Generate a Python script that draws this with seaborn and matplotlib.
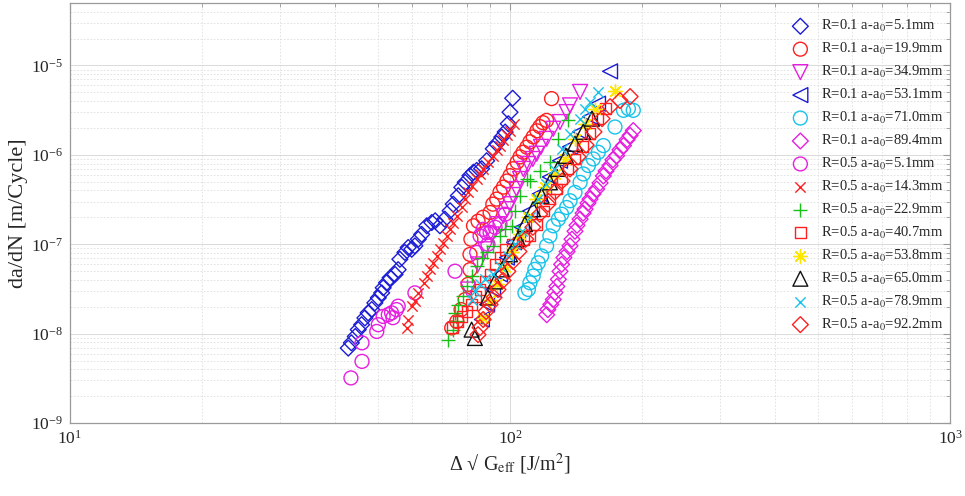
import numpy as np
import pandas as pd
import seaborn as sns
import matplotlib.pyplot as plt
from matplotlib.ticker import LogLocator, LogFormatterMathtext, NullFormatter

# crack growth data
# R=0.1
x_r01_05 = [42.9, 43.6, 44.5, 45.2, 46.0, 46.8, 47.6, 48.5, 49.3, 50.2, 51.1, 51.5, 52.4, 53.4, 54.8,
            55.7, 56.2, 57.7, 58.7, 59.8, 60.8, 61.9, 63.0, 64.7, 66.4, 67.6, 69.3, 71.1, 73.1, 74.3,
            76.3, 77.7, 79.1, 81.1, 82.6, 84.0, 86.2, 88.5, 91.6, 93.3, 95.8, 97.5, 99.1, 100.0, 101.4]
y_r01_05 = [6.9e-9, 7.9e-9, 9.3e-9, 1.11e-8, 1.26e-8, 1.50e-8, 1.71e-8, 1.86e-8, 2.21e-8, 2.52e-8,
            2.86e-8, 3.26e-8, 3.71e-8, 4.22e-8, 4.6e-8, 5.2e-8, 6.8e-8, 8.1e-8, 9.2e-8, 8.8e-8,
            9.6e-8, 1.14e-7, 1.29e-7, 1.61e-7, 1.75e-7, 1.83e-7, 1.61e-7, 1.91e-7, 2.37e-7, 2.81e-7,
            3.49e-7, 4.33e-7, 4.93e-7, 5.85e-7, 6.4e-7, 6.7e-7, 7.0e-7, 8.6e-7, 1.17e-6, 1.33e-6,
            1.58e-6, 1.80e-6, 2.23e-6, 3.0e-6, 4.3e-6]

x_r01_20 = [73.7, 75.7, 77.4, 79.1, 80.3, 81.1, 81.1, 81.5, 82.6, 84.6, 86.9, 90.1, 91.4, 93.3, 94.9,
            96.6, 98.4, 100.0, 101.8, 103.8, 105.4, 107.1, 109.2, 111.0, 112.9, 115.1, 116.9, 118.8,
            121.1, 124.3]
y_r01_20 = [1.16e-8, 1.37e-8, 1.86e-8, 2.41e-8, 3.56e-8, 5.2e-8, 7.7e-8, 1.14e-7, 1.61e-7, 1.81e-7,
            2.01e-7, 2.27e-7, 2.81e-7, 3.2e-7, 3.84e-7, 4.36e-7, 5.1e-7, 5.85e-7, 7.0e-7, 8.3e-7,
            9.5e-7, 1.07e-6, 1.22e-6, 1.40e-6, 1.59e-6, 1.86e-6, 2.07e-6, 2.29e-6, 2.43e-6, 4.26e-6]

x_r01_35 = [80.3, 84.6, 87.7, 90.9, 93.9, 96.6, 98.5, 100.0, 101.6, 103.5, 105.4, 107.2, 109.9, 112.7,
            115.0, 117.6, 121.1, 125.4, 129.9, 134.5, 136.9, 144.3]
y_r01_35 = [3.12e-8, 5.96e-8, 8.8e-8, 1.29e-7, 1.68e-7, 2.08e-7, 2.47e-7, 2.81e-7, 3.56e-7, 4.15e-7,
            5.37e-7, 6.97e-7, 7.9e-7, 9.0e-7, 1.03e-6, 1.23e-6, 1.51e-6, 1.96e-6, 2.33e-6, 3.01e-6,
            3.58e-6, 5.06e-6]

x_r01_53 = [86.3, 88.7, 91.5, 94.9, 98.4, 102.1, 106.4, 111.0, 116.8, 123.2, 129.9, 136.9, 144.3,
            152.0, 158.5, 168.8]
y_r01_53 = [1.44e-8, 2.12e-8, 3.12e-8, 4.6e-8, 7.1e-8, 1.05e-7, 1.55e-7, 2.35e-7, 3.65e-7, 5.66e-7,
            8.6e-7, 1.23e-6, 1.81e-6, 2.67e-6, 3.74e-6, 8.6e-6]

x_r01_71 = [108.1, 110.1, 111.0, 112.9, 113.9, 115.9, 118.0, 121.1, 123.2, 125.4, 128.8, 131.0, 134.5,
            136.9, 140.5, 144.3, 146.8, 150.7, 154.6, 158.7, 163.0, 173.2, 181.1, 185.8, 190.6]
y_r01_71 = [2.86e-8, 3.12e-8, 3.71e-8, 4.41e-8, 5.24e-8, 6.2e-8, 7.4e-8, 9.6e-8, 1.24e-7, 1.61e-7,
            1.91e-7, 2.17e-7, 2.58e-7, 3.07e-7, 3.80e-7, 4.92e-7, 6.12e-7, 7.6e-7, 9.0e-7, 1.07e-6,
            1.27e-6, 2.05e-6, 3.15e-6, 3.29e-6, 3.15e-6]

x_r01_89 = [121.2, 121.9, 123.8, 125.4, 126.5, 127.8, 128.8, 129.9, 131.0, 132.6, 134.8, 136.9, 138.3,
            140.5, 142.0, 144.3, 146.6, 148.1, 150.4, 152.0, 154.4, 157.4, 160.2, 163.0, 165.3, 168.8,
            171.4, 174.7, 177.8, 181.1, 184.6, 187.5, 190.6]
y_r01_89 = [1.63e-8, 1.86e-8, 2.12e-8, 2.41e-8, 2.89e-8, 3.38e-8, 4.05e-8, 4.98e-8, 5.96e-8, 7.1e-8,
            8.3e-8, 9.6e-8, 1.14e-7, 1.40e-7, 1.63e-7, 1.91e-7, 2.23e-7, 2.47e-7, 2.89e-7, 3.2e-7,
            3.65e-7, 4.15e-7, 4.85e-7, 5.81e-7, 6.6e-7, 7.6e-7, 8.8e-7, 9.8e-7, 1.14e-6, 1.27e-6,
            1.48e-6, 1.65e-6, 1.87e-6]

# R=0.5
x_r05_05 = [43.5, 46.1, 46.1, 49.8, 50.2, 51.5, 52.9, 53.8, 55.2, 55.7, 54.2, 60.8, 75.0, 84.0, 85.5,
            88.5, 90.1, 86.9, 92.5, 94.9, 89.1, 97.5]
y_r05_05 = [3.2e-9, 4.9e-9, 7.9e-9, 1.06e-8, 1.26e-8, 1.56e-8, 1.63e-8, 1.71e-8, 1.86e-8, 2.03e-8,
            1.51e-8, 2.86e-8, 5.0e-8, 8.1e-8, 1.24e-7, 1.35e-7, 1.36e-7, 1.47e-7, 1.55e-7, 1.68e-7,
            1.0e-7, 2.17e-7]

x_r05_14 = [58.2, 58.7, 59.8, 60.8, 61.9, 63.6, 64.7, 65.8, 66.9, 68.1, 69.3, 70.5, 71.8, 73.1, 74.3,
            75.7, 77.6, 79.1, 80.4, 81.8, 84.0, 85.5, 87.0, 89.3, 91.6, 93.3, 94.9, 96.6, 98.2, 100.0,
            102.3]
y_r05_14 = [1.16e-8, 1.44e-8, 2.03e-8, 2.31e-8, 2.86e-8, 3.71e-8, 4.41e-8, 5.24e-8, 6.2e-8, 7.4e-8,
            8.8e-8, 1.04e-7, 1.24e-7, 1.47e-7, 1.75e-7, 2.08e-7, 2.58e-7, 3.2e-7, 3.81e-7, 4.52e-7,
            5.37e-7, 6.1e-7, 7.0e-7, 8.3e-7, 9.8e-7, 1.12e-6, 1.27e-6, 1.45e-6, 1.65e-6, 1.87e-6,
            2.23e-6]

x_r05_23 = [72.4, 74.3, 75.7, 75.0, 76.3, 78.3, 79.8, 81.8, 84.0, 86.2, 88.5, 91.6, 94.9, 97.4, 100.9,
            102.6, 105.4, 109.2, 111.0, 116.8, 123.2, 128.5, 135.8]
y_r05_23 = [8.6e-9, 1.11e-8, 1.37e-8, 1.71e-8, 2.12e-8, 2.62e-8, 3.40e-8, 4.41e-8, 5.7e-8, 7.1e-8,
            8.1e-8, 9.6e-8, 1.24e-7, 1.47e-7, 1.61e-7, 2.35e-7, 3.49e-7, 5.37e-7, 5.15e-7, 6.6e-7,
            8.3e-7, 1.51e-6, 2.43e-6]

x_r05_41 = [74.1, 76.2, 77.8, 79.8, 81.8, 83.7, 85.5, 87.7, 90.1, 92.5, 94.9, 97.4, 101.1, 104.3, 107.6,
            111.0, 115.1, 119.5, 123.2, 127.3, 131.3, 135.5, 140.5, 145.9, 152.0, 157.8, 164.5]
y_r05_41 = [1.17e-8, 1.36e-8, 1.55e-8, 1.77e-8, 2.12e-8, 2.61e-8, 3.12e-8, 3.84e-8, 4.6e-8, 5.96e-8,
            7.1e-8, 8.8e-8, 1.0e-7, 1.05e-7, 1.14e-7, 1.26e-7, 1.68e-7, 2.35e-7, 3.2e-7, 4.15e-7,
            5.37e-7, 6.97e-7, 9.0e-7, 1.23e-6, 1.72e-6, 2.54e-6, 3.29e-6]

x_r05_54 = [86.8, 90.1, 93.4, 97.4, 101.1, 105.4, 109.9, 114.6, 120.2, 126.5, 133.3, 140.5, 148.1, 156.0,
            173.2]
y_r05_54 = [1.51e-8, 2.41e-8, 3.56e-8, 5.52e-8, 8.3e-8, 1.29e-7, 2.01e-7, 3.2e-7, 4.37e-7, 6.12e-7,
            9.0e-7, 1.51e-6, 2.23e-6, 3.29e-6, 5.24e-6]

x_r05_65 = [81.8, 83.2, 89.1, 92.5, 95.9, 100.0, 104.3, 108.1, 112.8, 118.0, 123.2, 128.5, 134.0, 140.5,
            146.6, 153.6]
y_r05_65 = [1.11e-8, 8.95e-9, 2.54e-8, 3.84e-8, 5.24e-8, 7.73e-8, 1.14e-7, 1.68e-7, 2.47e-7, 3.49e-7,
            4.93e-7, 6.97e-7, 9.75e-7, 1.33e-6, 1.81e-6, 2.54e-6]

x_r05_79 = [82.0, 83.2, 85.5, 87.7, 91.4, 94.9, 98.9, 102.6, 106.4, 111.0, 115.8, 120.7, 125.9, 131.3,
            136.9, 144.3, 148.1, 152.0, 158.7]
y_r05_79 = [2.41e-8, 2.98e-8, 3.56e-8, 4.05e-8, 4.6e-8, 5.7e-8, 7.4e-8, 1.0e-7, 1.40e-7, 2.01e-7,
            3.2e-7, 4.72e-7, 6.97e-7, 1.17e-6, 1.72e-6, 2.54e-6, 3.29e-6, 3.94e-6, 5.07e-6]

x_r05_92 = [84.6, 85.5, 86.9, 88.2, 90.1, 92.0, 93.9, 96.4, 98.9, 101.6, 104.8, 108.6, 112.7, 116.8,
            121.9, 126.5, 131.3, 136.9, 142.8, 148.9, 155.2, 161.9, 168.8, 177.8, 187.5]
y_r05_92 = [9.75e-9, 1.17e-8, 1.44e-8, 1.77e-8, 2.12e-8, 2.54e-8, 3.12e-8, 3.94e-8, 4.98e-8, 6.44e-8,
            8.3e-8, 1.14e-7, 1.55e-7, 2.17e-7, 2.81e-7, 3.84e-7, 5.1e-7, 6.97e-7, 9.5e-7, 1.29e-6,
            1.81e-6, 2.54e-6, 3.46e-6, 4.05e-6, 4.49e-6]

labels = [r'R=0.1 a-a$_0$=5.1mm', r'R=0.1 a-a$_0$=19.9mm', r'R=0.1 a-a$_0$=34.9mm',
          r'R=0.1 a-a$_0$=53.1mm', r'R=0.1 a-a$_0$=71.0mm', r'R=0.1 a-a$_0$=89.4mm',
          r'R=0.5 a-a$_0$=5.1mm', r'R=0.5 a-a$_0$=14.3mm', r'R=0.5 a-a$_0$=22.9mm',
          r'R=0.5 a-a$_0$=40.7mm', r'R=0.5 a-a$_0$=53.8mm', r'R=0.5 a-a$_0$=65.0mm',
          r'R=0.5 a-a$_0$=78.9mm', r'R=0.5 a-a$_0$=92.2mm']

blue, red, mag, cyan = '#1c1cd6', '#ff1f1f', '#e61ee0', '#17c3ea'
green, yellow, black = '#16c016', '#ffe600', '#111111'

# (x, y, marker, size, colour, hollow)
series = [
    (x_r01_05, y_r01_05, 'D', 65, blue, True),
    (x_r01_20, y_r01_20, 'o', 100, red, True),
    (x_r01_35, y_r01_35, 'v', 115, mag, True),
    (x_r01_53, y_r01_53, '<', 115, blue, True),
    (x_r01_71, y_r01_71, 'o', 100, cyan, True),
    (x_r01_89, y_r01_89, 'D', 65, mag, True),
    (x_r05_05, y_r05_05, 'o', 100, mag, True),
    (x_r05_14, y_r05_14, 'x', 55, red, False),
    (x_r05_23, y_r05_23, '+', 95, green, False),
    (x_r05_41, y_r05_41, 's', 60, red, True),
    (x_r05_54, y_r05_54, (8, 2, 0), 95, yellow, False),
    (x_r05_65, y_r05_65, '^', 115, black, True),
    (x_r05_79, y_r05_79, 'x', 55, cyan, False),
    (x_r05_92, y_r05_92, 'D', 65, red, True),
]

sns.set_style('white')
plt.rcParams['font.family'] = ['Liberation Serif', 'DejaVu Serif']
plt.rcParams['mathtext.fontset'] = 'stix'

fig, ax = plt.subplots(figsize=(9.65, 4.96), dpi=100)
fig.subplots_adjust(left=0.0725, right=0.9845, bottom=0.147, top=0.994)

for (xs, ys, mk, sz, col, hollow), lab in zip(series, labels):
    df = pd.DataFrame({'dG': xs, 'dadN': ys})
    if hollow:
        sns.scatterplot(data=df, x='dG', y='dadN', ax=ax, marker=mk, s=sz, color=col,
                        facecolor='none', edgecolor=col, linewidth=1.0, label=lab)
    else:
        sns.scatterplot(data=df, x='dG', y='dadN', ax=ax, marker=mk, s=sz, color=col,
                        linewidth=1.0, label=lab)

ax.set_xscale('log')
ax.set_yscale('log')
ax.set_xlim(10, 1000)
ax.set_ylim(1e-9, 5e-5)

ax.xaxis.set_major_locator(LogLocator(base=10, numticks=10))
ax.yaxis.set_major_locator(LogLocator(base=10, numticks=10))
ax.xaxis.set_minor_locator(LogLocator(base=10, subs=np.arange(2, 10), numticks=20))
ax.yaxis.set_minor_locator(LogLocator(base=10, subs=np.arange(2, 10), numticks=20))
ax.xaxis.set_major_formatter(LogFormatterMathtext())
ax.yaxis.set_major_formatter(LogFormatterMathtext())
ax.xaxis.set_minor_formatter(NullFormatter())
ax.yaxis.set_minor_formatter(NullFormatter())

ax.grid(True, which='major', color='#d4d4d4', linestyle='-', linewidth=0.6)
ax.grid(True, which='minor', color='#dedede', linestyle=(0, (2, 2)), linewidth=0.6)
ax.set_axisbelow(True)

for sp in ax.spines.values():
    sp.set_color('#9a9a9a')
    sp.set_linewidth(0.9)
ax.tick_params(which='both', direction='in', top=True, right=True, color='#9a9a9a',
               labelsize=12.5, labelcolor='#262626', pad=5)
ax.tick_params(which='major', length=5)
ax.tick_params(which='minor', length=3)

ax.set_xlabel('Δ √ G$_{\\mathrm{eff}}$ [J/m$^2$]', fontsize=14.5, color='#262626', labelpad=3)
ax.set_ylabel('da/dN [m/Cycle]', fontsize=16, color='#262626', labelpad=2)

ax.legend(loc='upper left', bbox_to_anchor=(0.815, 0.978), frameon=False, fontsize=10.5,
          handlelength=1.0, handletextpad=0.9, labelspacing=0.47, borderaxespad=0)

fig.savefig('out.png', dpi=100)
